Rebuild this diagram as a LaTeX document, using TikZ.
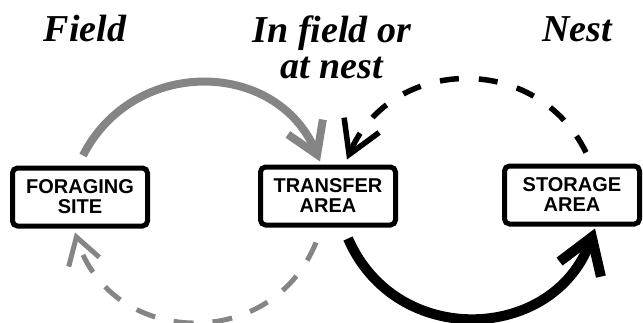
\documentclass[tikz,border=0pt]{standalone}
\usepackage{fontspec}
\setmainfont{Liberation Serif}
\setsansfont{Liberation Sans}
\usepackage{xcolor}
\usepackage{tikz}
\usetikzlibrary{arrows.meta}

\begin{document}
\begin{tikzpicture}[x=1pt,y=1pt,
  caja/.style={draw,line width=5pt,rounded corners=5pt,minimum width=135pt,
    minimum height=58pt,align=center,inner sep=0pt,
    font=\sffamily\bfseries\fontsize{20}{20}\selectfont},
  titulo/.style={align=center,inner sep=0pt,
    font=\bfseries\itshape\fontsize{38}{36}\selectfont},
  gris/.style={draw=black!48}
]
  \useasboundingbox (0,0) rectangle (643,322);

  % titulos
  \node[titulo,anchor=base]  (campo) at (85,280)  {Field};
  \node[titulo,anchor=north] (mixto) at (332,306) {In field or\\at nest};
  \node[titulo,anchor=base]  (nido)  at (577,280) {Nest};

  % cajas
  \node[caja] (forrajeo) at (80,125)  {FORAGING\\SITE};
  \node[caja] (transfer) at (328,126) {TRANSFER\\AREA};
  \node[caja] (almacen)  at (572,127) {STORAGE\\AREA};

  % flechas
  \draw[gris,line width=8pt,-{Straight Barb[length=30pt,width=38pt]}]
    ([shift={(3,10)}]forrajeo.north) to[out=63,in=113,looseness=1.2]
    ([shift={(-8,3)}]transfer.north);
  \draw[line width=5.5pt,dash pattern=on 19pt off 20pt,
    -{Straight Barb[length=32pt,width=38pt]}]
    ([shift={(14,11)}]almacen.north) to[out=116,in=67,looseness=1.2]
    ([shift={(19,5)}]transfer.north);
  \draw[line width=10pt,-{Straight Barb[length=34pt,width=44pt]}]
    ([shift={(20,-11)}]transfer.south) to[out=-66.5,in=-110,looseness=1.25]
    ([shift={(23,-2)}]almacen.south);
  \draw[gris,line width=5pt,dash pattern=on 20pt off 19pt,
    -{Straight Barb[length=26pt,width=32pt]}]
    ([shift={(-12,-15)}]transfer.south) to[out=-112,in=-73,looseness=1.27]
    ([shift={(-5,-4)}]forrajeo.south);
\end{tikzpicture}
\end{document}
